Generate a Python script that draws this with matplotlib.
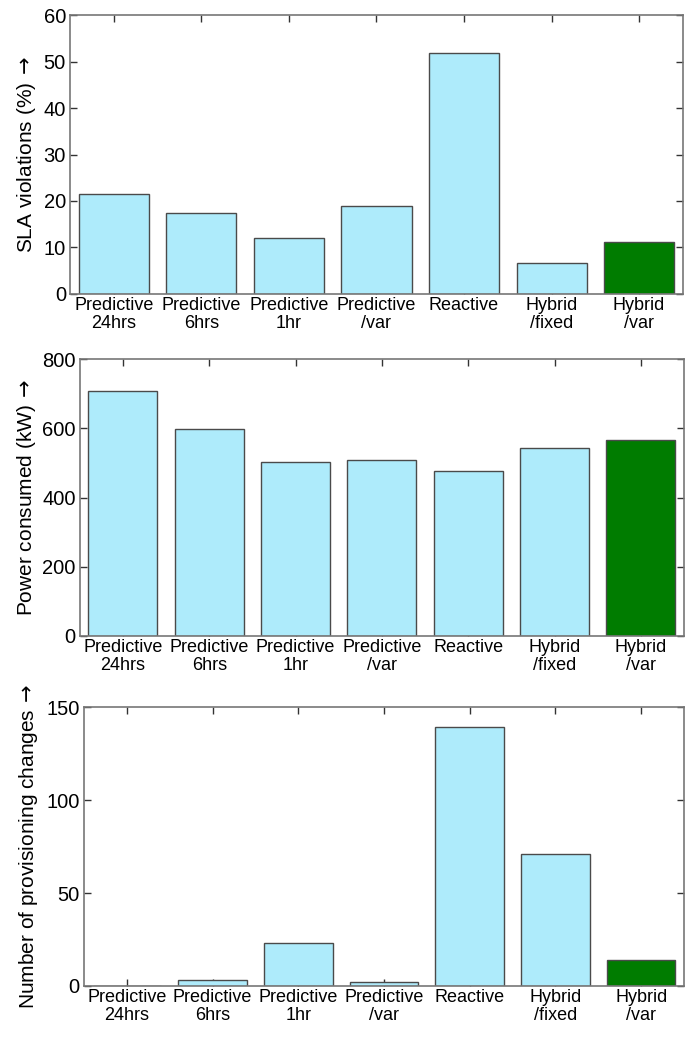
import matplotlib.pyplot as plt

plt.rcParams['font.family'] = ['Liberation Sans', 'DejaVu Sans']

schemes = ['Predictive\n24hrs', 'Predictive\n6hrs', 'Predictive\n1hr', 'Predictive\n/var',
           'Reactive', 'Hybrid\n/fixed', 'Hybrid\n/var']
sla_violations = [21.6, 17.5, 12.0, 18.9, 51.8, 6.6, 11.1]
power_kw = [708, 597, 504, 507, 478, 543, 565]
prov_changes = [0, 3, 23, 2, 139.5, 71, 14]

LIGHT = '#aeebfb'
GREEN = '#007c00'


def bar_panel(ax, values, ylabel, yticks, label_x):
    x = range(1, len(values) + 1)
    colors = [LIGHT] * (len(values) - 1) + [GREEN]
    ax.bar(x, values, width=0.8, color=colors, edgecolor='#4a4a4a', linewidth=1.0, zorder=2)
    ax.set_xlim(0.5, len(values) + 0.5)
    ax.set_ylim(yticks[0], yticks[-1])
    ax.set_xticks(list(x))
    ax.set_xticklabels(schemes, fontsize=13, linespacing=1.1)
    ax.set_yticks(yticks)
    ax.tick_params(axis='y', labelsize=14.5, pad=3)
    ax.tick_params(direction='in', top=True, right=True, length=5, width=1, color='#333333')
    ax.tick_params(axis='x', pad=2)
    for s in ax.spines.values():
        s.set_color('#777777')
        s.set_linewidth(1.2)
    # long arrow from the math font, plain text from the sans family
    ax.set_ylabel(ylabel + r'$\,\rightarrow$', fontsize=15)
    ax.yaxis.set_label_coords(label_x, 0.5)


fig = plt.figure(figsize=(6.94, 10.38), dpi=100)
ax1 = fig.add_axes([0.101, 0.7168, 0.883, 0.2687])
ax2 = fig.add_axes([0.115, 0.3873, 0.8706, 0.2668])
ax3 = fig.add_axes([0.121, 0.0501, 0.8646, 0.2685])

bar_panel(ax1, sla_violations, 'SLA violations (%)', [0, 10, 20, 30, 40, 50, 60], -0.052)
bar_panel(ax2, power_kw, 'Power consumed (kW)', [0, 200, 400, 600, 800], -0.070)
bar_panel(ax3, prov_changes, 'Number of provisioning changes', [0, 50, 100, 150], -0.074)

fig.savefig('out.png', dpi=100)
